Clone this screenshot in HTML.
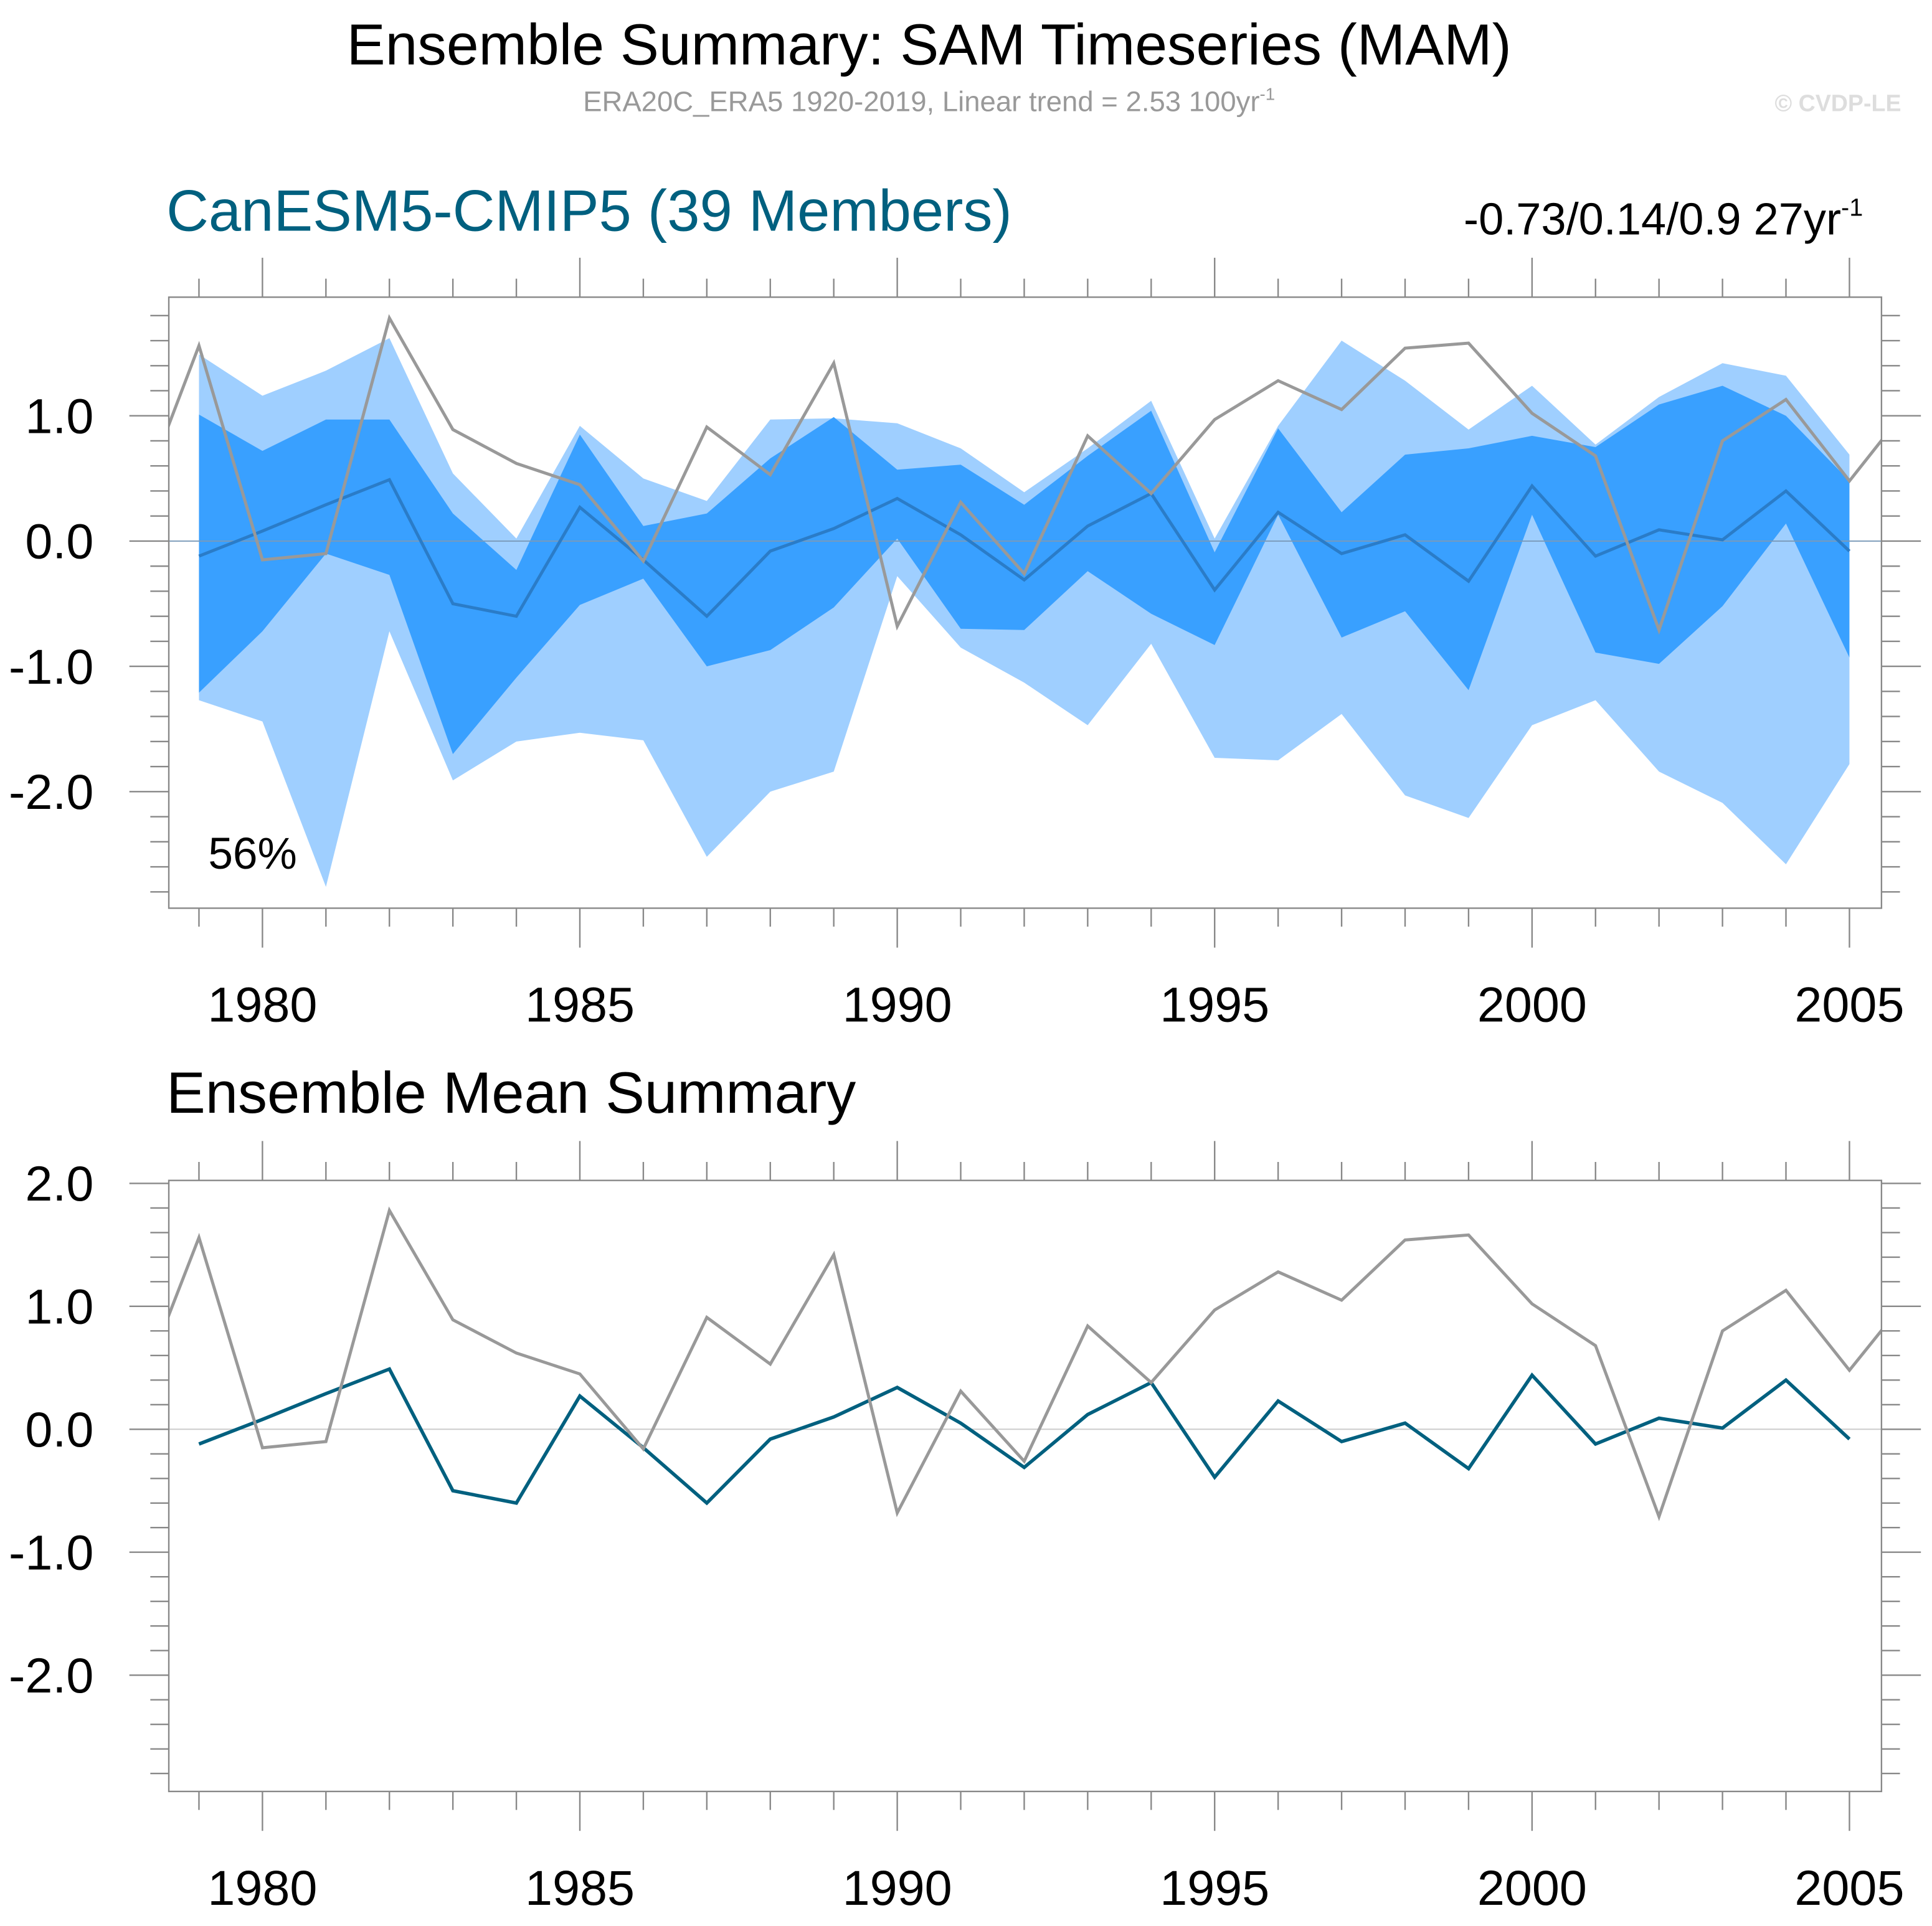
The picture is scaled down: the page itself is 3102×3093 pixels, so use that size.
<!DOCTYPE html>
<html><head><meta charset="utf-8"><style>
html,body{margin:0;padding:0;background:#fff}
svg{display:block}
text{font-family:"Liberation Sans",Arial,sans-serif}
</style></head><body>
<svg id="chart" xmlns="http://www.w3.org/2000/svg" width="3102" height="3093" viewBox="0 0 1568 1563">
<text x="754" y="52" font-size="47" text-anchor="middle">Ensemble Summary: SAM Timeseries (MAM)</text>
<text x="754" y="90" font-size="23" fill="#999" text-anchor="middle">ERA20C_ERA5 1920-2019, Linear trend = 2.53 100yr<tspan dy="-9" font-size="14">-1</tspan></text>
<text x="1543" y="90" font-size="19" fill="#ddd" font-weight="bold" text-anchor="end">© CVDP-LE</text>
<text x="135" y="187" font-size="47.5" fill="#00607f">CanESM5-CMIP5 (39 Members)</text>
<text x="1512" y="190" font-size="36.5" text-anchor="end">-0.73/0.14/0.9 27yr<tspan dy="-15" font-size="20">-1</tspan></text>
<text x="135" y="903" font-size="47.5">Ensemble Mean Summary</text>
<text x="169" y="705" font-size="36">56%</text>
<g id="p1"></g><g id="p2"></g>
</svg>
<script>
const years=[];for(let y=1979;y<=2005;y++)years.push(y);
const obsYears=[];for(let y=1978;y<=2006;y++)obsYears.push(y);
const obs=[0.23,1.56,-0.15,-0.10,1.78,0.89,0.62,0.45,-0.16,0.91,0.53,1.42,-0.68,0.31,-0.26,0.84,0.38,0.97,1.28,1.05,1.54,1.58,1.02,0.68,-0.71,0.80,1.13,0.48,1.12];
const ensMean=[-0.12,0.08,0.29,0.49,-0.50,-0.60,0.27,-0.15,-0.60,-0.08,0.10,0.34,0.05,-0.31,0.12,0.38,-0.39,0.23,-0.10,0.05,-0.32,0.44,-0.12,0.09,0.01,0.40,-0.08];
const ensMax=[1.49,1.16,1.36,1.62,0.54,0.02,0.92,0.50,0.32,0.97,0.98,0.94,0.74,0.39,0.74,1.12,0.02,0.92,1.60,1.28,0.89,1.24,0.77,1.15,1.42,1.32,0.69];
const ensMin=[-1.27,-1.44,-2.76,-0.72,-1.91,-1.60,-1.53,-1.59,-2.52,-2.00,-1.84,-0.28,-0.85,-1.13,-1.47,-0.82,-1.73,-1.75,-1.38,-2.03,-2.21,-1.47,-1.27,-1.84,-2.09,-2.58,-1.78];
const ensP90=[1.01,0.72,0.97,0.97,0.22,-0.23,0.85,0.12,0.22,0.66,0.99,0.57,0.61,0.29,0.68,1.04,-0.09,0.90,0.23,0.69,0.74,0.84,0.75,1.09,1.24,1.00,0.48];
const ensP10=[-1.21,-0.72,-0.10,-0.27,-1.70,-1.09,-0.51,-0.30,-1.00,-0.87,-0.53,0.02,-0.70,-0.71,-0.24,-0.58,-0.83,0.21,-0.77,-0.56,-1.19,0.21,-0.89,-0.98,-0.52,0.14,-0.93];
const yTicks=[-2,-1,0,1,2];
const xTicks=[1980,1985,1990,1995,2000,2005];
const NS="http://www.w3.org/2000/svg";
function mk(p,t,a){const e=document.createElementNS(NS,t);for(const k in a)e.setAttribute(k,a[k]);p.appendChild(e);return e;}
function panel(gid,top,bot,zero,unit,vmin,vmax,bands,meanCol,meanW,idx){
 const g=document.getElementById(gid);
 const L=137,R=1527;
 const X=y=>213+(y-1980)*(1501-213)/25;
 const Y=v=>zero-v*unit;
 const cid='clip'+idx;
 const cp=mk(g,'clipPath',{id:cid});mk(cp,'rect',{x:L,y:top,width:R-L,height:bot-top});
 const dg=mk(g,'g',{'clip-path':'url(#'+cid+')'});
 if(bands){
  const poly=(hi,lo,col,name)=>{let d='M';years.forEach((y,i)=>d+=X(y)+','+Y(hi[i])+' L');for(let i=years.length-1;i>=0;i--)d+=X(years[i])+','+Y(lo[i])+(i?' L':' Z');
   const p=mk(dg,'path',{d:d,fill:col});
   
   };
  poly(ensMax,ensMin,'#9fcfff','min-max-band');
  poly(ensP90,ensP10,'#39a0ff','percentile-band');
 }
 const zl=mk(dg,'line',{x1:L,x2:R,y1:Y(0),y2:Y(0),stroke:bands?'#7a9ab8':'#ccc','stroke-width':1});
 
 
 const m=mk(dg,'polyline',{points:years.map((y,i)=>X(y)+','+Y(ensMean[i])).join(' '),fill:'none',stroke:meanCol,'stroke-width':meanW});
 
 
 const o=mk(dg,'polyline',{points:obsYears.map((y,i)=>X(y)+','+Y(obs[i])).join(' '),fill:'none',stroke:'#999','stroke-width':2.5});
 
 
 const box=mk(g,'rect',{x:L,y:top,width:R-L,height:bot-top,fill:'none',stroke:'#888','stroke-width':1.2});
 
 
 const tk=mk(g,'g',{stroke:'#888','stroke-width':1.2});
 for(let y=1979;y<=2005;y++){const maj=y%5==0;const l=maj?32:15;
  mk(tk,'line',{x1:X(y),x2:X(y),y1:top,y2:top-l});mk(tk,'line',{x1:X(y),x2:X(y),y1:bot,y2:bot+l});}
 for(let v=Math.ceil(vmin*5)/5;v<=vmax+1e-6;v+=0.2){const vv=Math.round(v*10)/10;const maj=Math.abs(vv-Math.round(vv))<1e-6;const l=maj?32:15;
  mk(tk,'line',{x1:L,x2:L-l,y1:Y(vv),y2:Y(vv)});mk(tk,'line',{x1:R,x2:R+l,y1:Y(vv),y2:Y(vv)});}
 xTicks.forEach(y=>{const t=mk(g,'text',{x:X(y),y:bot+92,'font-size':40,'text-anchor':'middle'});t.textContent=y;
  
  });
 yTicks.forEach(v=>{if(v<vmin||v>vmax)return;const t=mk(g,'text',{x:76,y:Y(v)+14,'font-size':40,'text-anchor':'end'});t.textContent=v.toFixed(1);
  
  });
}
panel('p1',241,737,439,101.7,-2.93,1.95,true,'#2a7cc8',2.5,1);
panel('p2',958,1454,1160,99.8,-2.95,2.03,false,'#00607f',2.8,2);
</script>
</body></html>
